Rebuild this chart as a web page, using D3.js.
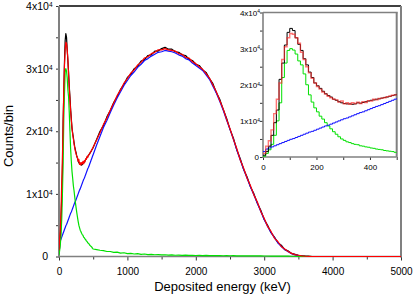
<!DOCTYPE html>
<html><head><meta charset="utf-8">
<script src="https://cdn.jsdelivr.net/npm/d3@7/dist/d3.min.js"></script>
<style>body{margin:0;background:#fff}svg{display:block;font-family:"Liberation Sans",Arial,sans-serif}</style>
</head><body><svg id="c" width="415" height="295"></svg>
<script>
// Energy bins (keV)
const energy = [0,10,20,30,40,50,60,70,80,90,100,110,120,130,140,150,160,170,180,190,200,210,220,230,240,250,260,270,280,290,300,310,320,330,340,350,360,370,380,390,400,410,420,430,440,450,460,470,480,490,500,
550,600,650,700,750,800,850,900,950,1000,1050,1100,1150,1200,1250,1300,1350,1400,1450,1500,1550,1600,1650,1700,1750,1800,1850,1900,1950,2000,2050,2100,2150,2200,2250,2300,2350,2400,2450,2500,2550,2600,2650,2700,2750,2800,2850,2900,2950,3000,3050,3100,3150,3200,3250,3300,3350,3400,3450,3500,3550,3600,3650,3700,
3800,3900,4000,4200,4400,4600,4800,5000];
// Counts/bin in units of 1e4
const measured = [0.05,0.15,0.3,0.6,0.95,1.3,2.15,2.6,3.1,3.45,
3.56,3.5,3.3,3.12,2.95,2.72,2.55,2.35,2.2,2.05,
1.97,1.9,1.82,1.75,1.7,1.66,1.6,1.57,1.53,1.5,
1.48,1.47,1.47,1.46,1.47,1.5,1.49,1.51,1.53,1.55,
1.57,1.58,1.6,1.61,1.63,1.65,1.66,1.68,1.7,1.72,
1.74,
1.87,2.0,2.09,2.23,2.33,2.46,2.55,2.67,2.75,2.86,
2.91,3.0,3.04,3.12,3.14,3.21,3.22,3.28,3.28,3.32,
3.34,3.31,3.31,3.27,3.26,3.22,3.21,3.15,3.13,3.07,
3.05,2.98,2.94,2.84,2.76,2.62,2.51,2.35,2.21,2.03,
1.89,1.7,1.56,1.39,1.27,1.11,1.0,0.85,0.74,0.59,
0.5,0.38,0.31,0.22,0.18,0.11,0.09,0.05,0.035,0.02,
0.012,0.005,0.002,0,
0,0,0,0,0,0,0,0];
const simTotal = [0.1,0.3,0.45,0.75,1.2,1.6,2.05,2.7,3.05,3.3,
3.42,3.4,3.3,3.15,2.9,2.7,2.5,2.33,2.18,2.05,
1.95,1.88,1.8,1.74,1.68,1.64,1.6,1.58,1.52,1.55,
1.47,1.5,1.46,1.5,1.48,1.52,1.48,1.53,1.51,1.56,
1.55,1.6,1.58,1.62,1.63,1.64,1.67,1.68,1.71,1.72,
1.75,
1.86,1.98,2.11,2.21,2.34,2.45,2.57,2.66,2.77,2.84,
2.93,2.98,3.06,3.1,3.17,3.19,3.24,3.26,3.3,3.3,
3.32,3.3,3.29,3.28,3.24,3.23,3.18,3.17,3.11,3.08,
3.03,2.99,2.92,2.85,2.74,2.63,2.49,2.36,2.19,2.04,
1.87,1.72,1.54,1.41,1.25,1.13,0.98,0.87,0.72,0.61,
0.48,0.4,0.29,0.24,0.16,0.12,0.08,0.05,0.03,0.02,
0.01,0.005,0.002,0,
0,0,0,0,0,0,0,0];
const lowComponent = [0.02,0.1,0.2,0.35,0.6,1.0,1.5,2.2,2.6,2.95,
3.0,2.96,2.85,2.66,2.55,2.3,2.0,1.72,1.52,1.36,
1.25,1.13,1.05,0.95,0.86,0.78,0.7,0.63,0.56,0.5,
0.46,0.42,0.4,0.37,0.35,0.34,0.31,0.3,0.28,0.27,
0.25,0.24,0.22,0.21,0.2,0.18,0.17,0.16,0.15,0.13,
0.12,
0.11,0.1,0.095,0.08,0.08,0.065,0.07,0.055,0.06,0.045,
0.05,0.04,0.045,0.035,0.04,0.03,0.035,0.028,0.03,0.025,
0.028,0.022,0.025,0.02,0.023,0.018,0.021,0.017,0.02,0.016,
0.018,0.015,0.017,0.014,0.016,0.013,0.015,0.012,0.014,0.012,
0.013,0.011,0.012,0.01,0.011,0.009,0.01,0.009,0.009,0.008,
0.008,0.007,0.007,0.006,0.006,0.005,0.005,0.004,0.004,0.003,
0.003,0.002,0.001,0,
0,0,0,0,0,0,0,0];
const broadComponent = [0.15,0.22,0.25,0.28,0.31,0.34,0.37,0.4,0.43,0.46,
0.49,0.51,0.54,0.57,0.6,0.63,0.66,0.69,0.71,0.74,
0.77,0.8,0.83,0.86,0.88,0.91,0.94,0.97,1.0,1.03,
1.06,1.08,1.11,1.14,1.17,1.2,1.23,1.25,1.28,1.31,
1.34,1.37,1.4,1.42,1.45,1.48,1.51,1.54,1.57,1.6,
1.63,
1.78,1.92,2.06,2.17,2.3,2.42,2.53,2.63,2.73,2.81,
2.89,2.95,3.02,3.07,3.13,3.16,3.2,3.23,3.26,3.27,
3.29,3.28,3.27,3.25,3.22,3.2,3.16,3.14,3.09,3.05,
3.01,2.97,2.9,2.83,2.72,2.61,2.48,2.34,2.18,2.03,
1.87,1.7,1.54,1.39,1.25,1.11,0.98,0.85,0.72,0.59,
0.48,0.38,0.3,0.22,0.16,0.11,0.075,0.045,0.025,0.015,
0.008,0.004,0.001,0,
0,0,0,0,0,0,0,0];

const xTicks = [0,1000,2000,3000,4000,5000];
const xMinor = [500,1500,2500,3500,4500];
const yTicks = [0,1,2,3,4];
const yMinor = [0.5,1.5,2.5,3.5];
const insetXTicks = [0,200,400];
const insetXMinor = [100,300,500];
const xTitle = "Deposited energy (keV)";
const yTitle = "Counts/bin";

const svg = d3.select("#c");
const x = d3.scaleLinear().domain([0,5000]).range([59,401]);
const y = d3.scaleLinear().domain([0,4]).range([256.5,6]);
const ix = d3.scaleLinear().domain([0,500]).range([263,396.7]);
const iy = d3.scaleLinear().domain([0,4]).range([157,12.5]);

function sciLabels(g, fs, zeroShift){
  g.selectAll(".tick text").each(function(d){
    const t = d3.select(this);
    t.text(null);
    if(d===0){ t.text("0").attr("dx", zeroShift); }
    else {
      t.append("tspan").text(d+"x10");
      t.append("tspan").attr("dy","-0.45em").attr("font-size",fs*0.62).text("4");
    }
  });
}
function styleAxis(g, fs){
  g.select(".domain").remove();
  g.selectAll(".tick line").attr("stroke","#333").attr("stroke-width",1);
  g.selectAll(".tick text").attr("fill","#000").attr("font-size",fs).attr("font-family",'"Liberation Sans",Arial,sans-serif');
}

// ---- main plot ----
const main = svg.append("g");
const gx = main.append("g").attr("transform","translate(0,256.5)")
  .call(d3.axisBottom(x).tickValues(xTicks).tickSize(4).tickPadding(7.4).tickFormat(d3.format("d")));
styleAxis(gx,10);
const gxm = main.append("g").attr("transform","translate(0,256.5)")
  .call(d3.axisBottom(x).tickValues(xMinor).tickSize(3).tickFormat(""));
styleAxis(gxm,10);
const gy = main.append("g").attr("transform","translate(59,0)")
  .call(d3.axisLeft(y).tickValues(yTicks).tickSize(3).tickPadding(3.5));
styleAxis(gy,10.5); sciLabels(gy,10.5,-4.5);
const gym = main.append("g").attr("transform","translate(59,0)")
  .call(d3.axisLeft(y).tickValues(yMinor).tickSize(3).tickFormat(""));
styleAxis(gym,10);

main.append("line").attr("x1",x(0)).attr("x2",x(5000)).attr("y1",y(4)).attr("y2",y(4)).attr("stroke","#000").attr("stroke-width",1.6);
main.append("line").attr("x1",x(0)).attr("x2",x(0)).attr("y1",y(4)).attr("y2",y(0)+1).attr("stroke","#808080").attr("stroke-width",2);
main.append("line").attr("x1",x(5000)).attr("x2",x(5000)).attr("y1",y(4)).attr("y2",y(0)+1).attr("stroke","#808080").attr("stroke-width",2);
main.append("line").attr("x1",x(0)).attr("x2",x(5000)).attr("y1",y(0)).attr("y2",y(0)).attr("stroke","#808080").attr("stroke-width",1.6);

svg.append("clipPath").attr("id","mclip").append("rect").attr("x",59).attr("y",4).attr("width",342).attr("height",254);
const pts = energy.map((e,i)=>({e, m:measured[i], s:simTotal[i], g:lowComponent[i], b:broadComponent[i]}));
const series = [["m","#000000",1.2],["b","#1010ff",1.2],["g","#00e000",1.2],["s","#ff0000",1.2]];
const cg = main.append("g").attr("clip-path","url(#mclip)");
series.forEach(([k,c,w])=>{
  cg.append("path").datum(pts).attr("fill","none").attr("stroke",c).attr("stroke-width",w)
    .attr("stroke-linejoin","round")
    .attr("d",d3.line().x(d=>x(d.e)).y(d=>y(d[k])));
});

svg.append("text").attr("x",222.5).attr("y",291).attr("text-anchor","middle").attr("font-size",13).text(xTitle);
svg.append("text").attr("transform","translate(13,136) rotate(-90)").attr("text-anchor","middle").attr("font-size",13).text(yTitle);

// ---- inset ----
const ins = svg.append("g");
ins.append("rect").attr("x",263).attr("y",12.5).attr("width",133.7).attr("height",144.5).attr("fill","#fff");
const igx = ins.append("g").attr("transform","translate(0,157)")
  .call(d3.axisBottom(ix).tickValues(insetXTicks).tickSize(3).tickPadding(4.8).tickFormat(d3.format("d")));
styleAxis(igx,8);
const igxm = ins.append("g").attr("transform","translate(0,157)")
  .call(d3.axisBottom(ix).tickValues(insetXMinor).tickSize(3).tickFormat(""));
styleAxis(igxm,8);
const igy = ins.append("g").attr("transform","translate(263,0)")
  .call(d3.axisLeft(iy).tickValues(yTicks).tickSize(3).tickPadding(0));
styleAxis(igy,8); sciLabels(igy,8,-1);
const igym = ins.append("g").attr("transform","translate(263,0)")
  .call(d3.axisLeft(iy).tickValues(yMinor).tickSize(3).tickFormat(""));
styleAxis(igym,8);
ins.append("line").attr("x1",ix(0)).attr("x2",ix(500)+1).attr("y1",iy(4)).attr("y2",iy(4)).attr("stroke","#808080").attr("stroke-width",1.5);
ins.append("line").attr("x1",ix(500)).attr("x2",ix(500)).attr("y1",iy(4)).attr("y2",iy(0)).attr("stroke","#808080").attr("stroke-width",2);
ins.append("line").attr("x1",ix(0)).attr("x2",ix(0)).attr("y1",iy(4)).attr("y2",iy(0)+1).attr("stroke","#808080").attr("stroke-width",1.6);
ins.append("line").attr("x1",ix(0)).attr("x2",ix(500)).attr("y1",iy(0)).attr("y2",iy(0)).attr("stroke","#808080").attr("stroke-width",1.5);

svg.append("clipPath").attr("id","iclip").append("rect").attr("x",263).attr("y",12.5).attr("width",133.7).attr("height",145);
const ipts = pts.filter(d=>d.e<=500);
const iseries = [["g","#00e000",1,1],["b","#1010ff",1,1],["m","#000000",1,1],["s","#ff2a2a",1.4,0.65]];
const icg = ins.append("g").attr("clip-path","url(#iclip)");
iseries.forEach(([k,c,w,o])=>{
  icg.append("path").datum(ipts).attr("fill","none").attr("stroke",c).attr("stroke-width",w).attr("stroke-opacity",o)
    .attr("d",d3.line().curve(d3.curveStepAfter).x(d=>ix(d.e)).y(d=>iy(d[k])));
});
</script></body></html>
